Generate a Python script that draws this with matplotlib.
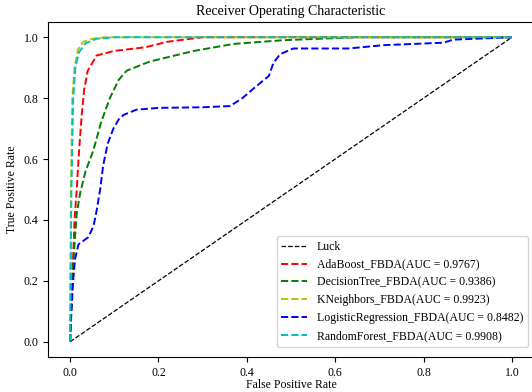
import matplotlib.pyplot as plt

plt.rcParams['font.family'] = ['Liberation Serif', 'DejaVu Serif']

# ROC curves
luck_fpr = [0.0, 1.0]
luck_tpr = [0.0, 1.0]

ada_fpr = [0, 0.005, 0.01, 0.015, 0.02, 0.026, 0.032, 0.04, 0.06, 0.1, 0.17, 0.22, 0.3, 1.0]
ada_tpr = [0, 0.2, 0.4, 0.5, 0.62, 0.74, 0.83, 0.89, 0.94, 0.955, 0.967, 0.985, 1.0, 1.0]

dt_fpr = [0, 0.005, 0.01, 0.015, 0.023, 0.035, 0.053, 0.07, 0.09, 0.11, 0.128, 0.18, 0.28,
          0.37, 0.48, 0.65, 1.0]
dt_tpr = [0, 0.2, 0.32, 0.42, 0.49, 0.56, 0.63, 0.72, 0.8, 0.86, 0.89, 0.92, 0.955,
          0.978, 0.99, 1.0, 1.0]

knn_fpr = [0, 0.002, 0.005, 0.01, 0.018, 0.03, 0.05, 0.08, 1.0]
knn_tpr = [0, 0.5, 0.8, 0.9, 0.96, 0.985, 0.995, 1.0, 1.0]

lr_fpr = [0, 0.003, 0.007, 0.011, 0.019, 0.041, 0.053, 0.06, 0.068, 0.075, 0.085, 0.098,
          0.11, 0.121, 0.15, 0.2, 0.3, 0.362, 0.39, 0.414, 0.45, 0.46, 0.475, 0.505,
          0.63, 0.71, 0.845, 0.867, 1.0]
lr_tpr = [0, 0.1, 0.2, 0.27, 0.32, 0.343, 0.38, 0.43, 0.5, 0.58, 0.65, 0.70,
          0.73, 0.745, 0.762, 0.768, 0.77, 0.774, 0.80, 0.83, 0.873, 0.915, 0.944, 0.963,
          0.963, 0.974, 0.982, 0.992, 1.0]

rf_fpr = [0, 0.003, 0.007, 0.012, 0.02, 0.035, 0.06, 0.1, 1.0]
rf_tpr = [0, 0.5, 0.8, 0.9, 0.95, 0.98, 0.995, 1.0, 1.0]

fig = plt.figure(figsize=(5.32, 3.92), dpi=100)
ax = fig.add_axes([48 / 532, 35 / 392, 486 / 532, 335 / 392])

ax.plot(luck_fpr, luck_tpr, '--', color='k', lw=0.9, label='Luck')
ax.plot(ada_fpr, ada_tpr, '--', color='r', lw=1.4, label='AdaBoost_FBDA(AUC = 0.9767)')
ax.plot(dt_fpr, dt_tpr, '--', color='g', lw=1.4, label='DecisionTree_FBDA(AUC = 0.9386)')
ax.plot(knn_fpr, knn_tpr, '--', color='y', lw=1.4, label='KNeighbors_FBDA(AUC = 0.9923)')
ax.plot(lr_fpr, lr_tpr, '--', color='b', lw=1.4, label='LogisticRegression_FBDA(AUC = 0.8482)')
ax.plot(rf_fpr, rf_tpr, '--', color='c', lw=1.4, label='RandomForest_FBDA(AUC = 0.9908)')

ax.set_xlim(-0.05, 1.05)
ax.set_ylim(-0.05, 1.05)
ax.set_xticks([0.0, 0.2, 0.4, 0.6, 0.8, 1.0])
ax.set_yticks([0.0, 0.2, 0.4, 0.6, 0.8, 1.0])
ax.tick_params(labelsize=8.5)
ax.set_title('Receiver Operating Characteristic', fontsize=10, pad=5)
ax.set_xlabel('False Positive Rate', fontsize=8.5, labelpad=0)
ax.set_ylabel('True Positive Rate', fontsize=8.5, labelpad=4)
ax.legend(loc='lower right', fontsize=8.5, borderaxespad=0,
          bbox_to_anchor=(1 - 6 / 486, 10 / 335), handlelength=2.2)

fig.savefig('out.png', dpi=100)
